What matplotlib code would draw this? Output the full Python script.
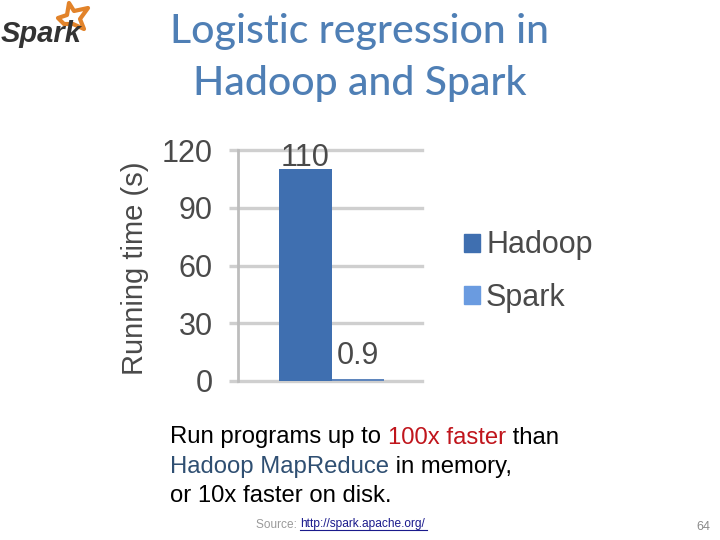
import matplotlib
matplotlib.use("Agg")
import matplotlib.pyplot as plt
from matplotlib.patches import Polygon

series = ["Hadoop", "Spark"]
values = [110, 0.9]
value_labels = ["110", "0.9"]
colors = ["#3f6fb0", "#6a9be0"]
yticks = [0, 30, 60, 90, 120]

W, H = 720, 540
fig = plt.figure(figsize=(7.2, 5.4), dpi=100)
fig.patch.set_facecolor("white")
SANS = "Liberation Sans"
INK = "#4a4a4a"

def fx(x): return x / W
def fy(y): return 1 - y / H

ax = fig.add_axes([fx(238), fy(381), (422 - 238) / W, (381 - 150) / H])
ax.set_ylim(0, 120)
ax.set_xlim(-1.28, 2.22)
ax.set_yticks(yticks)
ax.set_xticks([])
ax.yaxis.grid(True, color="#cfcfcf", lw=2.4, zorder=0)
for g in ax.get_ygridlines():
    g.set_clip_on(False)
ax.set_axisbelow(True)
for s in ["top", "right", "bottom"]:
    ax.spines[s].set_visible(False)
ax.spines["left"].set_color("#bdbdbd")
ax.spines["left"].set_linewidth(2.0)
ax.tick_params(axis="y", length=6.5, width=2.4, color="#cfcfcf", labelsize=22,
               labelcolor=INK, pad=11.5)
for t in ax.get_yticklabels():
    t.set_family(SANS)
ax.set_ylabel("Running time (s)", fontsize=21, family=SANS, color=INK)
ax.yaxis.set_label_coords((149 - 238) / (422 - 238), (381 - 268.5) / (381 - 150))

label_offsets = [-3, 6]
for i, (n, v) in enumerate(zip(series, values)):
    ax.bar(i, v, width=1.0, color=colors[0] if i == 0 else "#5f86bd", label=n, zorder=3)
    ax.annotate(value_labels[i], (i, v), xytext=(0, label_offsets[i]),
                textcoords="offset points", ha="center", va="bottom", fontsize=22,
                family=SANS, color=INK, zorder=4)

handles = [plt.Rectangle((0, 0), 1, 1, color=c) for c in colors]
fig.legend(handles, series, loc="upper left", bbox_to_anchor=(fx(464), fy(230.5)),
           frameon=False, prop={"family": SANS, "size": 22}, labelcolor=INK,
           handlelength=0.52, handleheight=0.52, handletextpad=0.2, labelspacing=0.73,
           borderpad=0, borderaxespad=0)

# slide title
TITLE = ["Logistic regression in", "Hadoop and Spark"]
for txt, y in zip(TITLE, [32, 84]):
    fig.text(fx(360), fy(y), txt, ha="center", va="center", fontsize=29.5,
             family=["Lato", "Open Sans"], color="#4f7fb5", fontweight="medium")

# body text with coloured runs
lines = [
    [("Run programs up to ", "black"), ("100x faster", "#c0151c"), (" than", "black")],
    [("Hadoop MapReduce", "#2f4f72"), (" in memory,", "black")],
    [("or 10x faster on disk.", "black")],
]
renderer = fig.canvas.get_renderer()
for line, y in zip(lines, [437.5, 466.5, 495.5]):
    x = 170
    for txt, col in line:
        t = fig.text(fx(x), fy(y), txt.replace(" ", "\u00a0"), ha="left", va="center",
                     fontsize=17.2, family=SANS, color=col)
        x += t.get_window_extent(renderer).width

# source line
t = fig.text(fx(256), fy(524.5), "Source:\u00a0", ha="left", va="center", fontsize=8.6,
             family=SANS, color="#9a9a9a")
x = 256 + t.get_window_extent(renderer).width
fig.text(fx(x), fy(524.5), "http://spark.apache.org/", ha="left", va="center", fontsize=8.6,
         family=SANS, color="#1a1a8c")
fig.add_artist(plt.Line2D([fx(x), fx(427)], [fy(530), fy(530)], color="#1a1a8c", lw=0.8))
fig.text(fx(696), fy(527), "64", ha="left", va="center", fontsize=9,
         family=SANS, color="#8a8a8a")

# logo
fig.text(fx(1), fy(34), "Spark", ha="left", va="center", fontsize=21, family=SANS,
         style="italic", fontweight="bold", color="#333333")
star = [(69, 3), (74, 11), (88, 8), (80, 19), (84, 29), (73, 24), (64, 24),
        (58, 18), (67, 15)]
fig.add_artist(Polygon([(fx(a), fy(b)) for a, b in star], closed=True,
                       transform=fig.transFigure, facecolor="white",
                       edgecolor="#e2832a", lw=3, joinstyle="round"))

fig.savefig("out.png", dpi=100)
